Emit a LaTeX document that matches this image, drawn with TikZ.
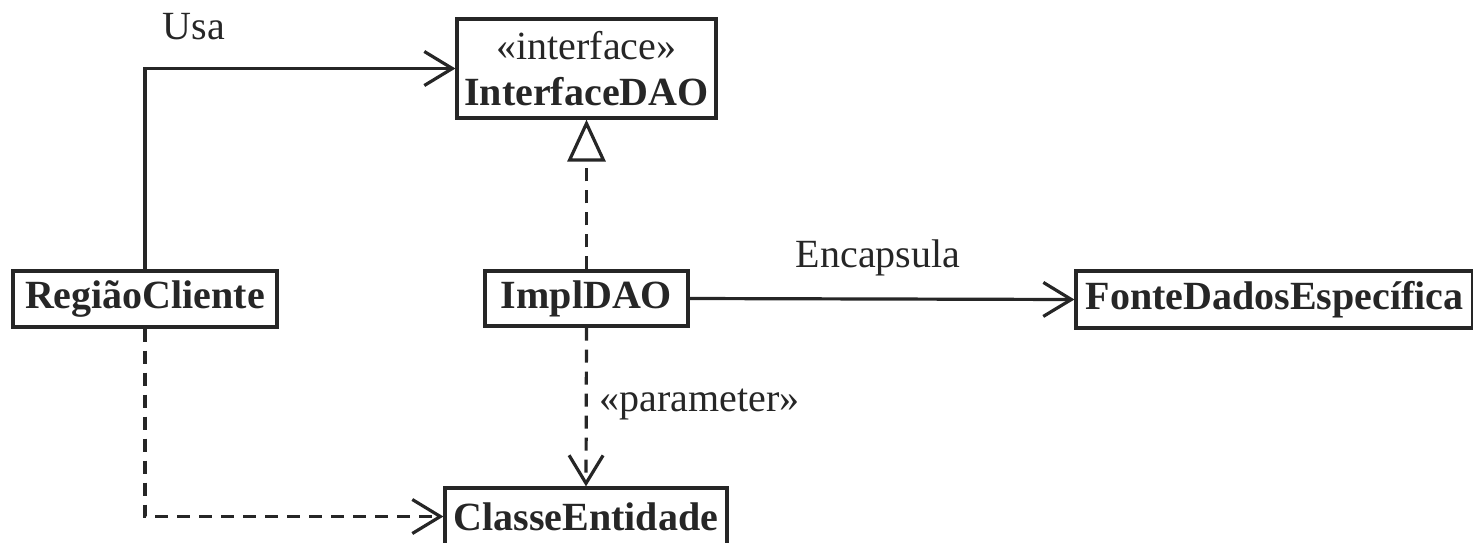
\documentclass[tikz,border=0pt]{standalone}
\usepackage{fontspec}
\setmainfont{Liberation Serif}
\usetikzlibrary{arrows.meta}

\definecolor{ink}{HTML}{262626}

\tikzset{
  klass/.style={draw=ink, line width=1.6pt, rectangle, inner sep=0pt,
    text=ink, font=\fontsize{20}{24}\selectfont\bfseries, align=center},
  link/.style={draw=ink, line width=1.6pt},
  depend/.style={link, dash pattern=on 6.5pt off 4.5pt},
  navarrow/.style={-{Straight Barb[length=14pt, width=17pt, line width=1.6pt]}},
  realarrow/.style={-{Triangle[open, length=21pt, width=19pt, line width=1.6pt]}},
  lbl/.style={text=ink, font=\fontsize{20}{24}\selectfont, inner sep=0pt}
}

\begin{document}
\begin{tikzpicture}[x=0.5pt, y=-0.5pt]
  \useasboundingbox (0,0) rectangle (1473,542);

  % classes
  \node[klass, minimum width=129.5pt, minimum height=49.5pt] (iface) at (586.5,68.5)
    {{\mdseries «interface»}\\[-1pt]InterfaceDAO};
  \node[klass, minimum width=132pt, minimum height=28pt] (reg) at (145,299) {RegiãoCliente};
  \node[klass, minimum width=101.5pt, minimum height=27.5pt] (impl) at (586.5,298.5) {ImplDAO};
  \node[klass, minimum width=198.5pt, minimum height=28.5pt] (fonte) at (1274.5,299.5) {FonteDadosEspecífica};
  \node[klass, minimum width=141pt, minimum height=28.5pt] (classe) at (586,516.5) {ClasseEntidade};

  % associations
  \draw[link, navarrow] (reg.north) |- (iface.west);
  \draw[link, navarrow] (impl.east) -- (fonte.west);

  % realization and dependencies
  \draw[depend, realarrow] (impl.north) -- (iface.south);
  \draw[depend, navarrow] (impl.south) -- (classe.north);
  \draw[depend, navarrow] (reg.south) |- (classe.west);

  % labels
  \node[lbl] (usa) at (194,27) {Usa};
  \node[lbl] (enc) at (878,258) {Encapsula};
  \node[lbl, anchor=west] (param) at (599,404) {«parameter»};
\end{tikzpicture}
\end{document}
